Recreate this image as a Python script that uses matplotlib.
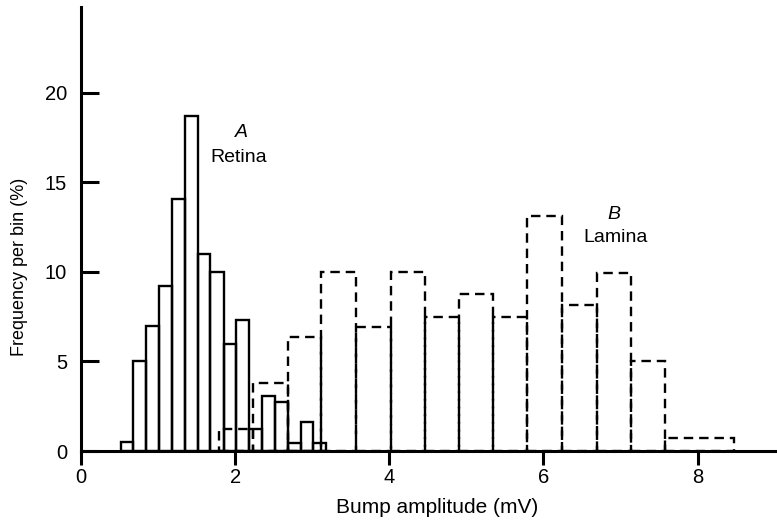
import numpy as np
import matplotlib
matplotlib.use("Agg")
import matplotlib.pyplot as plt

# bin edges (mV) and percentages per bin
retina_edges = [0.52, 0.68, 0.85, 1.01, 1.18, 1.35, 1.52, 1.68, 1.85, 2.01,
                2.18, 2.35, 2.52, 2.68, 2.85, 3.01, 3.18]
retina_freq = [0.5, 5.0, 7.0, 9.2, 14.1, 18.7, 11.0, 10.0, 6.0, 7.3,
               1.25, 3.1, 2.75, 0.45, 1.6, 0.45]

lamina_edges = [1.79, 2.23, 2.68, 3.12, 3.57, 4.02, 4.46, 4.91, 5.35, 5.79,
                6.24, 6.69, 7.14, 7.58, 8.47]
lamina_freq = [1.25, 3.8, 6.35, 10.0, 6.9, 10.0, 7.5, 8.75, 7.5, 13.1,
               8.15, 9.95, 5.0, 0.7]

xticks = [0, 2, 4, 6, 8]
yticks = [0, 5, 10, 15, 20]

plt.rcParams['font.family'] = ['Liberation Sans', 'DejaVu Sans']

fig = plt.figure(figsize=(7.77, 5.22), dpi=100)
ax = fig.add_axes([0.1042, 0.136, 0.8958, 0.8505])

# lamina: dashed outlines
ax.bar(lamina_edges[:-1], lamina_freq, width=np.diff(lamina_edges), align='edge',
       fill=False, edgecolor='black', linewidth=1.7, linestyle=(0, (4, 2.5)))
# retina: solid outlines
ax.bar(retina_edges[:-1], retina_freq, width=np.diff(retina_edges), align='edge',
       fill=False, edgecolor='black', linewidth=1.7)

ax.set_xlim(0, 9.03)
ax.set_ylim(0, 24.8)

for s in ['top', 'right']:
    ax.spines[s].set_visible(False)
for s in ['left', 'bottom']:
    ax.spines[s].set_linewidth(2.2)

ax.set_xticks(xticks)
ax.set_yticks(yticks)
ax.tick_params(axis='x', direction='out', length=10, width=2.2, pad=2, labelsize=14.5)
ax.tick_params(axis='y', direction='in', length=13, width=2.2, pad=10, labelsize=14.5)

ax.set_xlabel('Bump amplitude (mV)', fontsize=15, va='center', ha='center')
ax.set_ylabel('Frequency per bin (%)', fontsize=13, va='center', ha='center')
ax.xaxis.set_label_coords(0.511, -0.128)
ax.yaxis.set_label_coords(-0.088, 0.414)

ax.text(2.08, 17.8, 'A', style='italic', fontsize=14, ha='center', va='center')
ax.text(2.04, 16.4, 'Retina', fontsize=14, ha='center', va='center')
ax.text(6.91, 13.2, 'B', style='italic', fontsize=14, ha='center', va='center')
ax.text(6.93, 11.9, 'Lamina', fontsize=14, ha='center', va='center')

fig.savefig('out.png', dpi=100)
